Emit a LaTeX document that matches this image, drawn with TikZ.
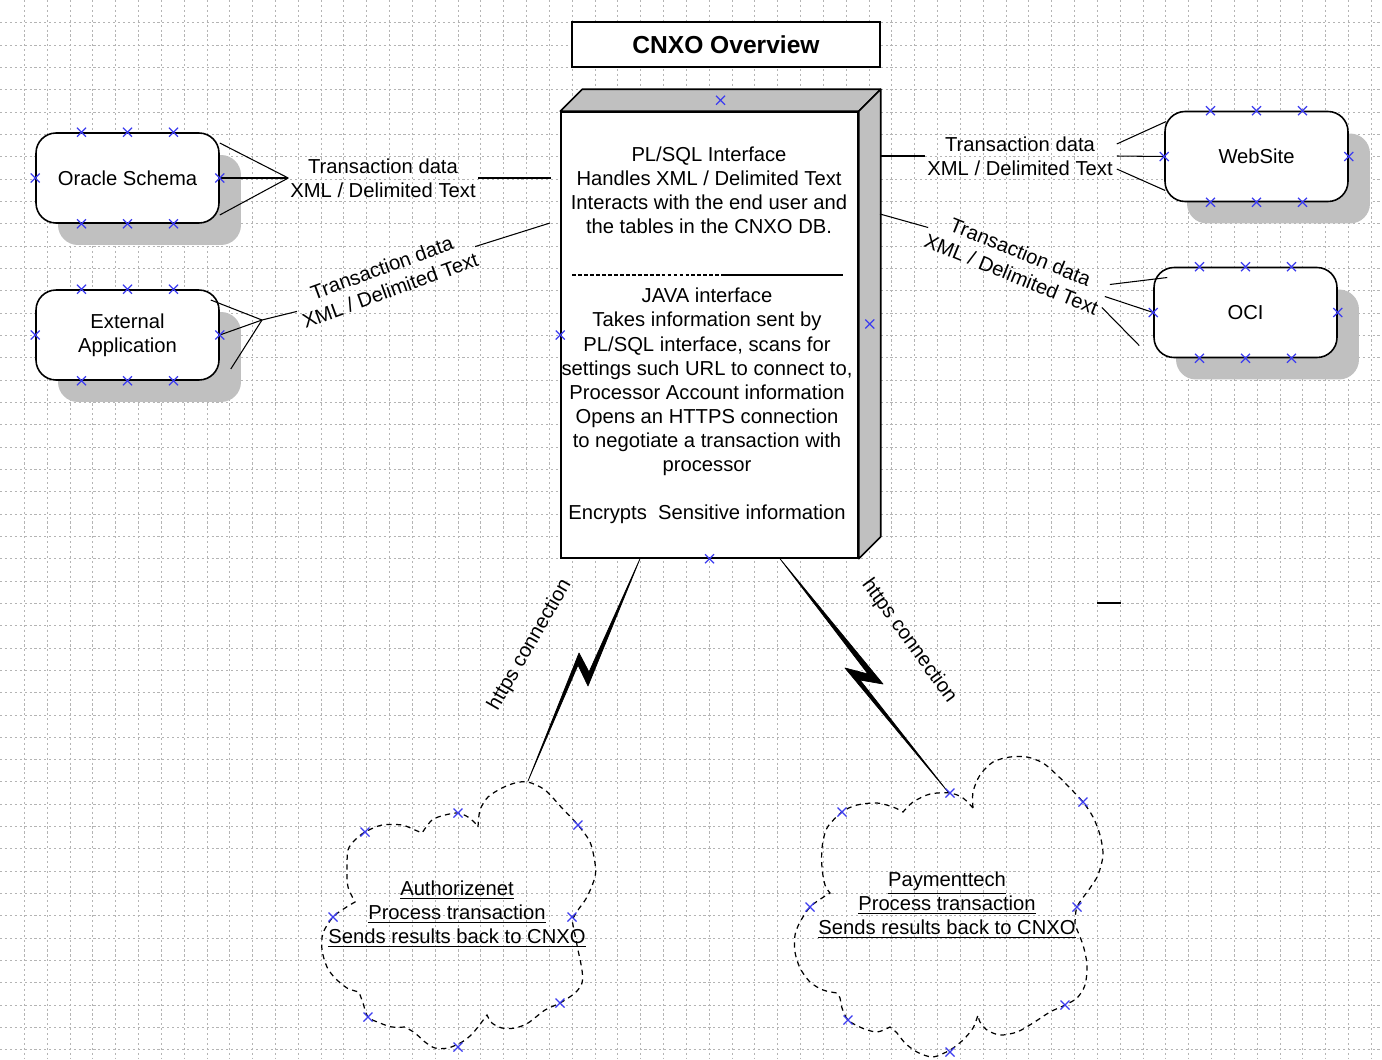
\documentclass[tikz,border=0pt]{standalone}
\usepackage{fontspec}
\setmainfont{Liberation Sans}
\usetikzlibrary{calc,shadows}

\definecolor{shadegray}{RGB}{192,192,192}
\definecolor{gridgray}{RGB}{180,180,180}
\definecolor{markblue}{RGB}{60,60,240}

\begin{document}
\begin{tikzpicture}[x=0.02cm,y=-0.02cm,
	every node/.style={font=\fontsize{11.5}{13.7}\selectfont},
	gridline/.style={gridgray, line width=0.5pt, dash pattern=on 1.2pt off 1.6pt},
	roundbox/.style={draw, line width=0.9pt, rounded corners=0.4cm, fill=white, minimum width=3.66cm, minimum height=1.8cm, align=center, general shadow={fill=shadegray, shadow xshift=0.44cm, shadow yshift=-0.44cm}},
	serverbox/.style={draw, line width=0.9pt, fill=white, minimum width=5.94cm, minimum height=8.92cm},
	link/.style={line width=0.6pt},
	tlabel/.style={align=center, inner sep=1pt},
	cloudline/.style={line width=0.7pt, dash pattern=on 3pt off 2.5pt},
	bolt/.style={fill=black, draw=black, line width=0.4pt, line join=round},
	xm/.pic={\draw[markblue, line width=0.7pt] (-4.5,-4.5) -- (4.5,4.5) (-4.5,4.5) -- (4.5,-4.5);}]

		\useasboundingbox (0,0) rectangle (1382,1059);
		\fill[white] (0,0) rectangle (1382,1059);
		\foreach \i in {0,...,59} \draw[gridline] ({24.3+22.83*\i},0) -- ++(0,1059);
		\foreach \j in {0,...,46} \draw[gridline] (0,{22.7+22.33*\j}) -- ++(1382,0);

		\node[draw, line width=0.9pt, fill=white, minimum width=6.16cm, minimum height=0.9cm, font=\bfseries\fontsize{14}{16}\selectfont] (title) at (726,44.5) {CNXO Overview};

		\node[serverbox] (server) at (709.5,335) {};
		\filldraw[fill=shadegray, line width=0.9pt, line join=round] (server.north west) -- ++(22,-22) -- ($(server.north east)+(22,-22)$) -- (server.north east) -- cycle;
		\filldraw[fill=shadegray, line width=0.9pt, line join=round] (server.north east) -- ++(22,-22) -- ($(server.south east)+(22,-22)$) -- (server.south east) -- cycle;
		\node[align=center] (plsql) at (709,190) {PL/SQL Interface\\Handles XML / Delimited Text\\Interacts with the end user and\\the tables in the CNXO DB.};
		\draw[line width=0.6pt, dash pattern=on 2.2pt off 1.2pt] (572,275) -- (723,275);
		\draw[line width=0.6pt] (723,275) -- (843,275);
		\node[align=center] (java) at (707,406) {JAVA interface\\Takes information sent by\\PL/SQL interface, scans for\\settings such URL to connect to,\\Processor Account information\\Opens an HTTPS connection\\to negotiate a transaction with\\processor\\[13.7pt]Encrypts\ \ Sensitive information};

		\node[roundbox] (ora) at (127.5,178) {Oracle Schema};
		\node[roundbox] (ext) at (127.5,335) {External\\Application};
		\node[roundbox] (web) at (1256.5,156.5) {WebSite};
		\node[roundbox] (oci) at (1245.5,312.5) {OCI};

		\node[tlabel] (lblora) at (383,178) {Transaction data\\XML / Delimited Text};
		\node[tlabel, rotate=20] (lblext) at (386,279) {Transaction data\\XML / Delimited Text};
		\node[tlabel] (lblweb) at (1020,156) {Transaction data\\XML / Delimited Text};
		\node[tlabel, rotate=-22] (lbloci) at (1016,263) {Transaction data\\XML / Delimited Text};

		\coordinate (sora) at (551,178);
		\coordinate (sext) at (550,223);
		\coordinate (sweb) at (880,156);
		\coordinate (soci) at (880,214);
		\coordinate (extfoot) at (262,320);

		\draw[link] (sora) -- (lblora.east);
		\draw[link] (lblora.west) -- ($(ora.east)+(0,-35)$);
		\draw[link] (lblora.west) -- (ora.east);
		\draw[link] (lblora.west) -- ($(ora.east)+(0,37)$);

		\draw[link] (sext) -- (lblext.east);
		\draw[link] (lblext.west) -- (extfoot);
		\draw[link] (extfoot) -- ($(ext.east)+(-9,-35)$);
		\draw[link] (extfoot) -- (ext.east);
		\draw[link] (extfoot) -- ($(ext.east)+(11,34)$);

		\draw[link] (sweb) -- (lblweb.west);
		\draw[link] ($(lblweb.east)+(2,-12)$) -- ($(web.west)+(2,-35)$);
		\draw[link] ($(lblweb.east)+(2,0)$) -- (web.west);
		\draw[link] ($(lblweb.east)+(2,13)$) -- ($(web.west)+(1,34)$);

		\draw[link] (soci) -- (lbloci.west);
		\draw[link] ($(lbloci.east)+(6,-14)$) -- ($(oci.west)+(14,-35)$);
		\draw[link] ($(lbloci.east)+(1,-2)$) -- (oci.west);
		\draw[link] ($(lbloci.east)+(-2,9)$) -- ($(oci.west)+(-14,33)$);

		\draw[line width=0.9pt] (1097,603) -- (1121,603);

		\draw[cloudline] plot[smooth] coordinates {(478,827) (480,810) (488,797) (502,788) (515,783) (528,782) (545,790) (562,808) (578,825) (590,842) (595,863) (595,877) (587,897) (578,910) (572,920)}
			-- plot[smooth] coordinates {(572,920) (578,950) (582,970) (582,983) (575,993) (560,1003) (545,1010) (528,1023) (515,1028) (502,1028) (492,1023) (487,1015)}
			-- plot[smooth] coordinates {(487,1015) (473,1033) (462,1042) (448,1048) (435,1048) (425,1042) (415,1033) (405,1027)}
			-- plot[smooth] coordinates {(405,1027) (392,1027) (380,1023) (368,1017) (363,1003) (359,992)}
			-- plot[smooth] coordinates {(359,992) (347,988) (335,978) (327,967) (322,950) (323,933) (333,917) (345,908) (355,902)}
			-- plot[smooth] coordinates {(355,902) (348,887) (347,870) (348,850) (355,840) (365,832) (382,825) (402,825) (415,830) (422,833)}
			-- plot[smooth] coordinates {(422,833) (432,820) (445,815) (458,813) (468,817) (475,823) (478,827)};
		\draw[cloudline] plot[smooth] coordinates {(973,808) (973,792) (980,775) (993,762) (1010,757) (1027,757) (1043,763) (1057,775) (1070,788) (1083,802) (1093,817) (1100,835) (1103,855) (1098,875) (1090,888) (1077,907) (1075,925)}
			-- plot[smooth] coordinates {(1075,925) (1083,945) (1087,965) (1085,985) (1077,998) (1065,1005) (1050,1012) (1033,1023) (1017,1032) (1000,1035) (987,1030) (980,1022) (978,1015)}
			-- plot[smooth] coordinates {(978,1015) (973,1028) (963,1040) (950,1050) (933,1057) (917,1052) (905,1043) (897,1033) (890,1027)}
			-- plot[smooth] coordinates {(890,1027) (877,1032) (862,1028) (848,1020) (842,1008) (840,998) (837,993)}
			-- plot[smooth] coordinates {(837,993) (823,990) (810,982) (800,968) (795,952) (795,935) (800,922) (810,907) (822,898) (830,893)}
			-- plot[smooth] coordinates {(830,893) (825,885) (822,868) (822,848) (827,828) (842,812) (857,805) (877,803) (893,807) (903,812)}
			-- plot[smooth] coordinates {(903,812) (913,802) (930,794) (950,793) (963,798) (973,808)};

		\node[align=center] (auth) at (457,914) {\underline{Authorizenet}\\\underline{Process transaction}\\\underline{Sends results back to CNXO}};
		\node[align=center] (pay) at (947,905) {\underline{Paymenttech}\\\underline{Process transaction}\\\underline{Sends results back to CNXO}};

		\coordinate (authtop) at (528,781);
		\coordinate (paytop) at (948,792);
		\filldraw[bolt] ($(server.south)+(-69.5,0)$) -- (588,686) -- (578,665) -- (authtop) -- (579,653) -- (589,672) -- cycle;
		\filldraw[bolt] ($(server.south)+(70.5,0)$) -- (883,684) -- (860,680) -- (paytop) -- (845,668) -- (868,674) -- cycle;
		\node[rotate=60] (httpsl) at (530,645) {https connection};
		\node[rotate=-54] (httpsr) at (909,641) {https connection};

		\foreach \b in {ora,ext,web,oci}
			\path ($(\b.north)+(-46,0)$) pic{xm} (\b.north) pic{xm} ($(\b.north)+(46,0)$) pic{xm}
				($(\b.south)+(-46,0)$) pic{xm} (\b.south) pic{xm} ($(\b.south)+(46,0)$) pic{xm}
				(\b.west) pic{xm} (\b.east) pic{xm};
		\path ($(server.north)+(11,-11)$) pic{xm} (server.west) pic{xm} ($(server.east)+(11,-11)$) pic{xm} (server.south) pic{xm};
		\foreach \p in {(365,832),(458,813),(578,825),(333,917),(572,917),(368,1017),(560,1003),(458,1047),(842,812),(950,793),(1083,802),(810,907),(1077,907),(848,1020),(1065,1005),(950,1052)}
			\path \p pic{xm};
	\end{tikzpicture}
\end{document}
